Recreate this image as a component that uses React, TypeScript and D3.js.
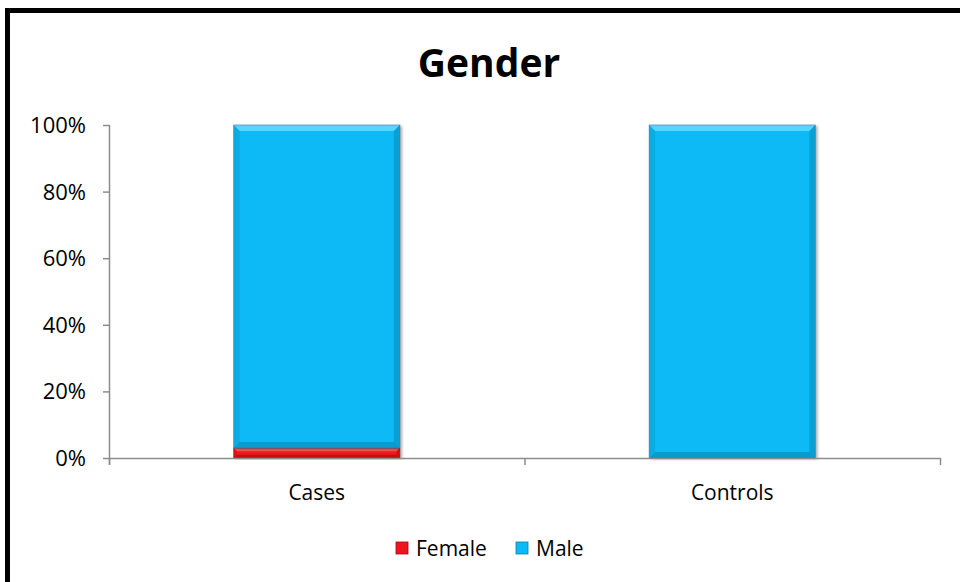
import React from "react";
import * as d3 from "d3";

const categories = ["Cases", "Controls"];
const seriesNames = ["Female", "Male"];
const female = [3, 0];
const male = [97, 100];
const yTicks = [0, 20, 40, 60, 80, 100];
const colors = { Female: "#F0141E", Male: "#0ABAF5" };
const edgeColors = { Female: "#A00A10", Male: "#0A7FAA" };
const lightColors = { Female: "#FF6A6A", Male: "#6CDCFF" };

const W = 960;
const H = 582;
const FONT = "'Open Sans', 'Noto Sans', sans-serif";

export default function App() {
  const x = d3.scaleBand<string>().domain(categories).range([109, 940]).paddingInner(0.6).paddingOuter(0.3);
  const y = d3.scaleLinear().domain([0, 100]).range([458, 125]);

  const stacked = d3.stack<any>().keys(seriesNames)(
    categories.map((c, i) => ({ cat: c, Female: female[i], Male: male[i] }))
  );

  const catTicks = [109, 524.5, 940];

  return (
    <svg width={W} height={H} style={{ position: "absolute", left: 0, top: 0 }}>
      <defs>
        <filter id="shadow" x="-10%" y="-10%" width="130%" height="130%">
          <feDropShadow dx="2" dy="1" stdDeviation="1.5" floodColor="#000" floodOpacity="0.35" />
        </filter>
      </defs>
      <rect x={0} y={0} width={W} height={H} fill="#fff" />
      {/* frame */}
      <rect x={7.5} y={10.5} width={W + 20} height={H + 20} fill="none" stroke="#000" strokeWidth={5} />

      <text x={489} y={77} textAnchor="middle" fontFamily={FONT} fontWeight="bold" fontSize={39} fill="#000">
        Gender
      </text>

      {/* y axis */}
      <line x1={109.5} x2={109.5} y1={y(100)} y2={y(0) + 7} stroke="#8c8c8c" strokeWidth={1.5} />
      {yTicks.map((t) => (
        <g key={t}>
          <line x1={103} x2={109.5} y1={y(t) + 0.5} y2={y(t) + 0.5} stroke="#8c8c8c" strokeWidth={1.5} />
          <text x={86} y={y(t) + 8} textAnchor="end" fontFamily={FONT} fontSize={22} fill="#000">
            {t}%
          </text>
        </g>
      ))}

      {/* bars */}
      {stacked.map((s) =>
        s.map((d, i) => {
          const cat = categories[i];
          const x0 = x(cat)!;
          const bw = x.bandwidth();
          const y0 = y(d[1]);
          const h = y(d[0]) - y(d[1]);
          if (h <= 0) return null;
          const key = s.key as keyof typeof colors;
          const b = Math.min(6, h / 3);
          return (
            <g key={key + cat}>
              <rect x={x0} y={y0} width={bw} height={h} fill={colors[key]} filter="url(#shadow)" />
              {/* bevel edges */}
              <polygon
                points={`${x0},${y0} ${x0 + bw},${y0} ${x0 + bw - b},${y0 + b} ${x0 + b},${y0 + b}`}
                fill={lightColors[key]}
                opacity={0.8}
              />
              <polygon
                points={`${x0},${y0 + h} ${x0 + bw},${y0 + h} ${x0 + bw - b},${y0 + h - b} ${x0 + b},${y0 + h - b}`}
                fill={edgeColors[key]}
                opacity={0.55}
              />
              <polygon
                points={`${x0 + bw},${y0} ${x0 + bw},${y0 + h} ${x0 + bw - b},${y0 + h - b} ${x0 + bw - b},${y0 + b}`}
                fill={edgeColors[key]}
                opacity={0.45}
              />
              <polygon
                points={`${x0},${y0} ${x0},${y0 + h} ${x0 + b},${y0 + h - b} ${x0 + b},${y0 + b}`}
                fill={edgeColors[key]}
                opacity={0.25}
              />
              <rect x={x0} y={y0} width={bw} height={h} fill="none" stroke={edgeColors[key]} strokeWidth={0.8} opacity={0.6} />
            </g>
          );
        })
      )}

      {/* x axis */}
      <line x1={109} x2={940.5} y1={y(0) + 0.5} y2={y(0) + 0.5} stroke="#8c8c8c" strokeWidth={1.5} />
      {catTicks.map((t) => (
        <line key={t} x1={t + 0.5} x2={t + 0.5} y1={y(0)} y2={y(0) + 7} stroke="#8c8c8c" strokeWidth={1.5} />
      ))}
      {categories.map((c) => (
        <text key={c} x={x(c)! + x.bandwidth() / 2} y={500} textAnchor="middle" fontFamily={FONT} fontSize={21} fill="#000">
          {c}
        </text>
      ))}

      {/* legend */}
      {seriesNames.map((n, i) => {
        const lx = [396, 516][i];
        const key = n as keyof typeof colors;
        return (
          <g key={n}>
            <rect x={lx} y={542} width={12} height={12} fill={colors[key]} stroke={edgeColors[key]} strokeWidth={0.8} />
            <text x={lx + 20} y={556} fontFamily={FONT} fontSize={21} fill="#000">
              {n}
            </text>
          </g>
        );
      })}
    </svg>
  );
}
